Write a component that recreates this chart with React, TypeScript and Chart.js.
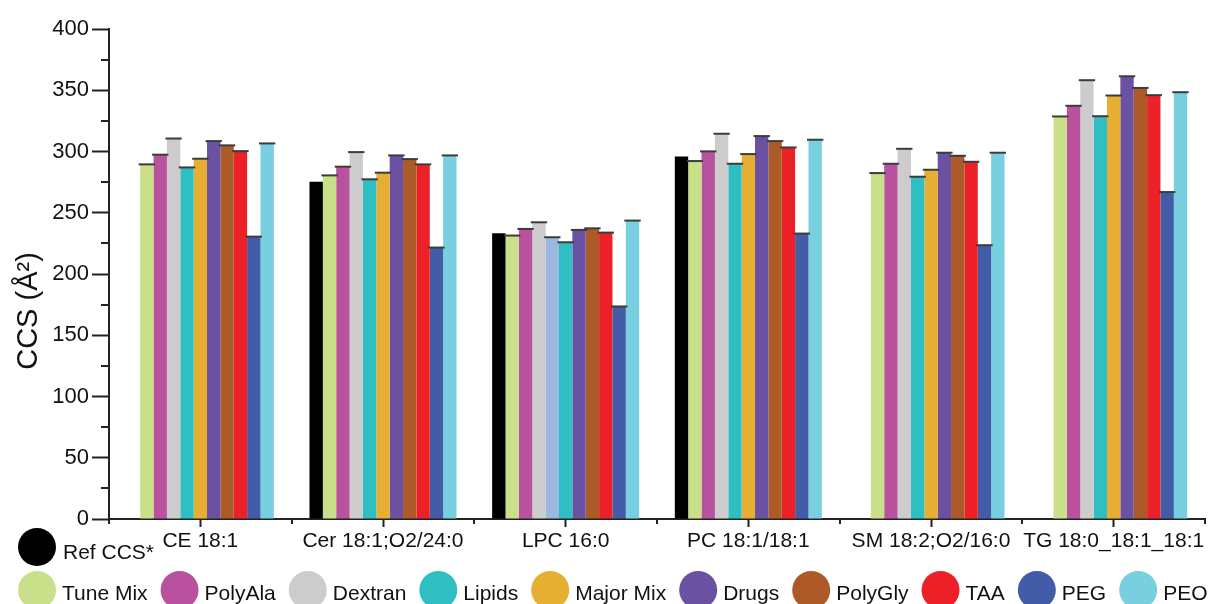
import React, { useEffect, useRef } from "react";
import { Chart, registerables } from "chart.js";

Chart.register(...registerables);

const FONT = '"Liberation Sans", Arial, Helvetica, sans-serif';

// ---------- data ----------
const categories = [
  "CE 18:1",
  "Cer 18:1;O2/24:0",
  "LPC 16:0",
  "PC 18:1/18:1",
  "SM 18:2;O2/16:0",
  "TG 18:0_18:1_18:1",
];

const refCCS = [null, 275.4, 233.3, 296.0, null, null];
const tuneMix = [289.5, 280.5, 231.4, 292.2, 282.4, 328.6];
const polyAla = [297.4, 287.6, 236.8, 300.1, 290.0, 337.3];
const dextran = [310.6, 299.5, 242.2, 314.5, 302.2, 358.2];
const lipids = [287.0, 277.3, 230.0, 290.0, 279.4, 328.8];
const majorMix = [294.1, 282.7, 225.9, 297.9, 285.1, 345.7];
const drugs = [308.5, 296.8, 236.0, 312.6, 299.0, 361.4];
const polyGly = [305.0, 293.8, 237.3, 308.5, 296.5, 351.9];
const taa = [300.3, 289.5, 233.8, 303.3, 291.6, 346.0];
const peg = [230.5, 221.6, 173.5, 233.0, 223.5, 266.9];
const peo = [306.6, 296.8, 243.6, 309.6, 299.0, 348.4];

const yTickValues = [0, 50, 100, 150, 200, 250, 300, 350, 400];

const seriesNames = [
  "Ref CCS*",
  "Tune Mix",
  "PolyAla",
  "Dextran",
  "Lipids",
  "Major Mix",
  "Drugs",
  "PolyGly",
  "TAA",
  "PEG",
  "PEO",
];
const seriesData = [refCCS, tuneMix, polyAla, dextran, lipids, majorMix, drugs, polyGly, taa, peg, peo];

// ---------- styles ----------
const seriesColors = [
  "#000000",
  "#C9DF8A",
  "#B8529E",
  "#CCCCCC",
  "#2FBFC2",
  "#E6AE33",
  "#6B51A1",
  "#AB5A28",
  "#EC2128",
  "#435CA8",
  "#77CFDF",
];
// per-bar colour overrides (LPC group uses different shades in the reference)
const colorOverrides: Record<number, Record<number, string>> = {
  4: { 2: "#9DB8E0" },
  5: { 2: "#2FBFC2" },
};

const AXIS_COLOR = "#222222";
const TEXT_COLOR = "#111111";

const capsPlugin = {
  id: "caps",
  afterDatasetsDraw(chart: any) {
    const ctx = chart.ctx;
    ctx.save();
    ctx.strokeStyle = "#3c3c3c";
    ctx.lineWidth = 2;
    chart.data.datasets.forEach((ds: any, di: number) => {
      if (di === 0) return;
      const meta = chart.getDatasetMeta(di);
      meta.data.forEach((el: any, i: number) => {
        if (ds.data[i] == null) return;
        const hw = el.width / 2 + 1.5;
        ctx.beginPath();
        ctx.moveTo(el.x - hw, el.y);
        ctx.lineTo(el.x + hw, el.y);
        ctx.stroke();
      });
    });
    ctx.restore();
  },
};

const axesExtrasPlugin = {
  id: "axesExtras",
  afterDraw(chart: any) {
    const ctx = chart.ctx;
    const y = chart.scales.y;
    const x = chart.scales.x;
    ctx.save();
    ctx.strokeStyle = AXIS_COLOR;
    ctx.lineWidth = 2;
    // minor y ticks
    for (let i = 0; i < yTickValues.length - 1; i++) {
      const v = (yTickValues[i] + yTickValues[i + 1]) / 2;
      const py = Math.round(y.getPixelForValue(v));
      ctx.beginPath();
      ctx.moveTo(y.right - 8, py);
      ctx.lineTo(y.right, py);
      ctx.stroke();
    }
    // category boundary ticks on x
    for (let i = 0; i <= categories.length; i++) {
      const px = Math.round(x.getPixelForValue(i - 0.5));
      ctx.beginPath();
      ctx.moveTo(px, x.top);
      ctx.lineTo(px, x.top + 5);
      ctx.stroke();
    }
    // y axis title
    ctx.fillStyle = TEXT_COLOR;
    ctx.font = `29px ${FONT}`;
    ctx.textAlign = "center";
    ctx.textBaseline = "alphabetic";
    ctx.translate(37, (y.top + y.bottom) / 2 + 37);
    ctx.rotate(-Math.PI / 2);
    ctx.fillText("CCS (Å²)", 0, 0);
    ctx.restore();
  },
};

const legendPlugin = {
  id: "customLegend",
  afterDraw(chart: any) {
    const ctx = chart.ctx;
    const r = 19;
    ctx.save();
    ctx.font = `21px ${FONT}`;
    ctx.textAlign = "left";
    ctx.textBaseline = "alphabetic";
    // row 1: reference
    ctx.fillStyle = seriesColors[0];
    ctx.beginPath();
    ctx.ellipse(18 + r, 547, r, r, 0, 0, Math.PI * 2);
    ctx.fill();
    ctx.fillStyle = TEXT_COLOR;
    ctx.fillText(seriesNames[0], 63, 559);
    // row 2
    let cx = 18;
    for (let i = 1; i < seriesNames.length; i++) {
      ctx.fillStyle = seriesColors[i];
      ctx.beginPath();
      ctx.ellipse(cx + r, 590, r, r, 0, 0, Math.PI * 2);
      ctx.fill();
      ctx.fillStyle = TEXT_COLOR;
      const tx = cx + 2 * r + 6;
      ctx.fillText(seriesNames[i], tx, 600);
      cx = tx + ctx.measureText(seriesNames[i]).width + 13;
    }
    ctx.restore();
  },
};

export default function App() {
  const canvasRef = useRef<HTMLCanvasElement | null>(null);

  useEffect(() => {
    if (!canvasRef.current) return;
    const datasets = seriesNames.map((name, di) => ({
      label: name,
      data: seriesData[di],
      backgroundColor: (c: any) =>
        (colorOverrides[di] && colorOverrides[di][c.dataIndex]) || seriesColors[di],
      borderWidth: 0,
      categoryPercentage: 0.805,
      barPercentage: 1.0,
    }));

    const chart = new Chart(canvasRef.current, {
      type: "bar",
      data: { labels: categories, datasets },
      options: {
        responsive: false,
        animation: false,
        layout: { padding: { top: 29, right: 4, left: 0, bottom: 0 } },
        plugins: {
          legend: { display: false },
          tooltip: { enabled: false },
          title: { display: false },
        },
        scales: {
          x: {
            type: "category",
            offset: true,
            grid: {
              offset: false,
              drawOnChartArea: false,
              drawTicks: true,
              tickLength: 8,
              tickWidth: 2,
              tickColor: AXIS_COLOR,
            },
            border: { display: true, color: AXIS_COLOR, width: 2 },
            ticks: {
              color: TEXT_COLOR,
              font: { family: FONT, size: 21 },
              padding: 2,
              maxRotation: 0,
              autoSkip: false,
            },
            afterFit: (scale: any) => {
              scale.height = 85;
            },
          },
          y: {
            min: 0,
            max: 400,
            grid: {
              drawOnChartArea: false,
              drawTicks: true,
              tickLength: 17,
              tickWidth: 2,
              tickColor: AXIS_COLOR,
            },
            border: { display: true, color: AXIS_COLOR, width: 2 },
            ticks: {
              stepSize: 50,
              color: TEXT_COLOR,
              font: { family: FONT, size: 22 },
              padding: 3,
              callback: (v: any) => (yTickValues.includes(Number(v)) ? String(v) : ""),
            },
            afterFit: (scale: any) => {
              scale.width = 109;
            },
          },
        },
      },
      plugins: [capsPlugin, axesExtrasPlugin, legendPlugin],
    });
    return () => chart.destroy();
  }, []);

  return (
    <div style={{ position: "absolute", left: 0, top: 0, width: 1209, height: 604, background: "#fff" }}>
      <canvas ref={canvasRef} width={1209} height={604} style={{ display: "block" }} />
    </div>
  );
}
